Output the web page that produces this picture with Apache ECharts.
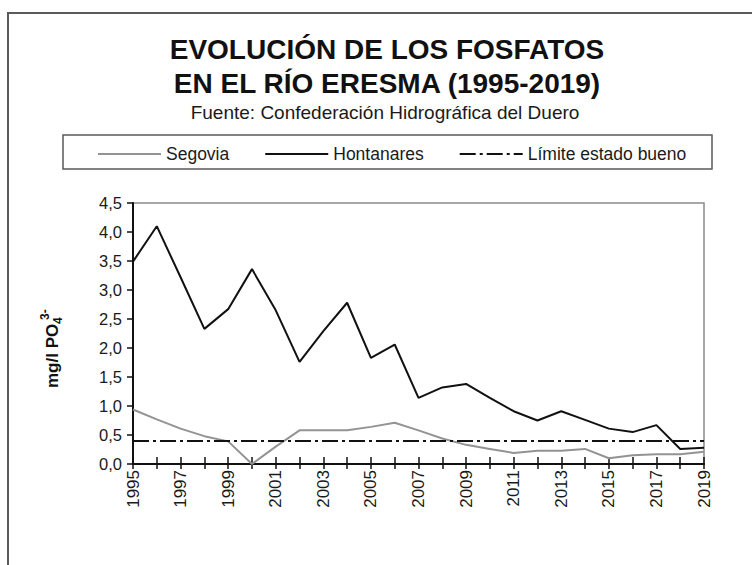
<!DOCTYPE html>
<html>
<head>
<meta charset="utf-8">
<script src="https://cdn.jsdelivr.net/npm/echarts@6/dist/echarts.min.js"></script>
<style>
  html, body { margin: 0; padding: 0; background: #fff; }
  #chart { width: 752px; height: 565px; }
</style>
</head>
<body>
<div id="chart"></div>
<script>
// Phosphate concentration (mg/l PO4 3-) in the Eresma river, 1995-2019
const years = ['1995','1996','1997','1998','1999','2000','2001','2002','2003','2004',
  '2005','2006','2007','2008','2009','2010','2011','2012','2013','2014',
  '2015','2016','2017','2018','2019'];
const segovia = [0.94, 0.77, 0.61, 0.48, 0.39, 0.00, 0.30, 0.58, 0.58, 0.58,
  0.64, 0.71, 0.58, 0.44, 0.33, 0.26, 0.19, 0.23, 0.23, 0.26,
  0.10, 0.15, 0.17, 0.17, 0.21];
const hontanares = [3.49, 4.10, 3.22, 2.33, 2.67, 3.36, 2.65, 1.76, 2.29, 2.78,
  1.83, 2.06, 1.14, 1.32, 1.38, 1.14, 0.91, 0.75, 0.91, 0.76,
  0.61, 0.55, 0.67, 0.26, 0.28];
const limiteBueno = 0.4;
const yTicks = { min: 0, max: 4.5, step: 0.5 };

const FONT = '"Liberation Sans", Arial, sans-serif';
const chart = echarts.init(document.getElementById('chart'), null, { renderer: 'svg' });

const DASH_DOT = [16, 4, 3, 4];

chart.setOption({
  backgroundColor: '#fff',
  animation: false,
  grid: {
    left: 133, right: 48, top: 203, bottom: 101,
    show: true, borderColor: '#8a8a8a', borderWidth: 1.5, backgroundColor: 'transparent'
  },
  legend: {
    left: 97, top: 145,
    itemWidth: 63, itemHeight: 14, itemGap: 35,
    padding: 0,
    itemStyle: { opacity: 0 },
    textStyle: { fontFamily: FONT, fontSize: 17.5, color: '#1a1a1a' },
    data: ['Segovia', 'Hontanares', 'Límite estado bueno']
  },
  xAxis: [{
    type: 'category',
    data: years,
    boundaryGap: false,
    axisLine: { lineStyle: { color: '#111', width: 2 } },
    axisTick: { show: true, interval: 0, length: 5, lineStyle: { color: '#111', width: 1.5 } },
    axisLabel: { interval: 1, rotate: 90, margin: 6, fontFamily: FONT, fontSize: 17, color: '#1a1a1a' },
    splitLine: { show: false }
  }, {
    // upward half of the crossing tick marks
    type: 'category',
    data: years,
    boundaryGap: false,
    position: 'bottom',
    axisLine: { show: false },
    axisTick: { show: true, inside: true, interval: 0, length: 7, lineStyle: { color: '#111', width: 1.5 } },
    axisLabel: { show: false },
    splitLine: { show: false }
  }],
  yAxis: {
    type: 'value',
    min: yTicks.min, max: yTicks.max, interval: yTicks.step,
    axisLine: { show: true, lineStyle: { color: '#111', width: 2 } },
    axisTick: { show: true, length: 6, lineStyle: { color: '#111', width: 1.5 } },
    axisLabel: {
      margin: 11, fontFamily: FONT, fontSize: 16.5, color: '#1a1a1a',
      formatter: v => v.toFixed(1).replace('.', ',')
    },
    splitLine: { show: false }
  },
  series: [{
    name: 'Segovia',
    type: 'line',
    data: segovia,
    symbol: 'none',
    lineStyle: { color: '#939393', width: 2 },
    itemStyle: { color: '#939393' },
    z: 3
  }, {
    name: 'Hontanares',
    type: 'line',
    data: hontanares,
    symbol: 'none',
    lineStyle: { color: '#111', width: 2 },
    itemStyle: { color: '#111' },
    z: 4
  }, {
    name: 'Límite estado bueno',
    type: 'line',
    data: [],
    symbol: 'none',
    lineStyle: { color: '#111', width: 2, type: DASH_DOT },
    itemStyle: { color: '#111' },
    markLine: {
      silent: true,
      symbol: 'none',
      label: { show: false },
      lineStyle: { color: '#111', width: 2, type: DASH_DOT },
      data: [{ yAxis: limiteBueno }]
    },
    z: 2
  }],
  graphic: [
    // outer frame (open to the right and bottom edges)
    { type: 'rect', shape: { x: 8, y: 13, width: 800, height: 600 },
      style: { fill: 'none', stroke: '#5a5a5a', lineWidth: 2 }, z: -1 },
    // legend frame
    { type: 'rect', shape: { x: 63, y: 135, width: 649, height: 34 },
      style: { fill: 'none', stroke: '#5a5a5a', lineWidth: 1.5 } },
    { type: 'text', x: 387, y: 49,
      style: { text: 'EVOLUCIÓN DE LOS FOSFATOS', font: 'bold 28px ' + FONT,
        fill: '#111', textAlign: 'center', textVerticalAlign: 'middle' } },
    { type: 'text', x: 387, y: 83,
      style: { text: 'EN EL RÍO ERESMA (1995-2019)', font: 'bold 28px ' + FONT,
        fill: '#111', textAlign: 'center', textVerticalAlign: 'middle' } },
    { type: 'text', x: 385, y: 112,
      style: { text: 'Fuente: Confederación Hidrográfica del Duero', font: '19px ' + FONT,
        fill: '#1a1a1a', textAlign: 'center', textVerticalAlign: 'middle' } },
    // y-axis title: mg/l PO4 3-
    { type: 'group', x: 52, y: 388, rotation: Math.PI / 2,
      children: [
        { type: 'text', x: 0, y: 0,
          style: { text: 'mg/l PO', font: 'bold 17px ' + FONT, fill: '#111',
            textAlign: 'left', textVerticalAlign: 'middle' } },
        { type: 'text', x: 64, y: 6,
          style: { text: '4', font: 'bold 12px ' + FONT, fill: '#111',
            textAlign: 'left', textVerticalAlign: 'middle' } },
        { type: 'text', x: 68, y: -7,
          style: { text: '3-', font: 'bold 12px ' + FONT, fill: '#111',
            textAlign: 'left', textVerticalAlign: 'middle' } }
      ] }
  ]
});
</script>
</body>
</html>
